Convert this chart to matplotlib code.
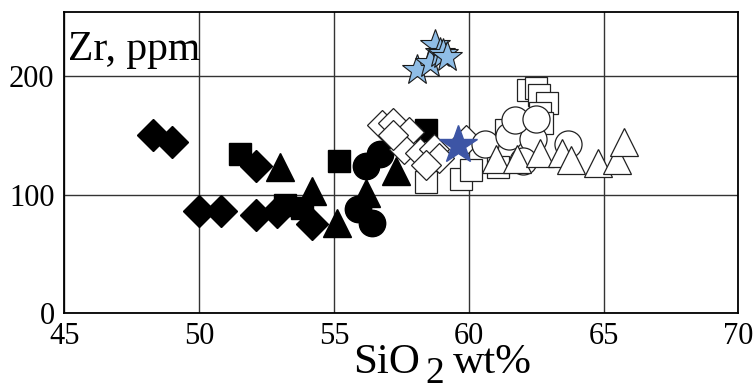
import matplotlib.pyplot as plt

plt.rcParams['font.family'] = ['Liberation Serif', 'DejaVu Serif']

# ---- data: SiO2 (wt%) vs Zr (ppm) ----
black_diamond_x = [48.3, 49.0, 50.0, 50.8, 52.1, 52.1, 52.9, 54.2]
black_diamond_y = [150, 144, 86, 86, 83, 124, 85, 75]

black_square_x = [51.5, 55.2, 58.4, 53.2, 53.8]
black_square_y = [134, 128, 154, 91, 89]

black_triangle_x = [53.0, 54.2, 55.1, 56.2, 57.3]
black_triangle_y = [123, 103, 76, 101, 120]

black_circle_x = [56.2, 56.7, 55.9, 56.4]
black_circle_y = [124, 134, 88, 76]

open_square_x = [58.4, 59.7, 60.1, 61.1, 61.4, 62.2, 62.5, 62.6, 62.9, 62.65, 62.7]
open_square_y = [111, 113, 121, 123, 154, 188, 190, 184, 177, 169, 160]

open_diamond_x = [56.8, 57.2, 57.8, 57.6, 58.2, 58.7, 58.9, 58.4, 59.9, 57.2]
open_diamond_y = [159, 160, 153, 138, 135, 138, 131, 125, 146, 150]

open_circle_x = [60.6, 61.5, 62.4, 61.7, 62.5, 63.7, 62.0]
open_circle_y = [143, 149, 147, 163, 164, 143, 128]

open_triangle_x = [61.0, 61.8, 62.65, 63.45, 63.8, 64.8, 65.5, 65.75]
open_triangle_y = [130, 130, 135, 135, 129, 127, 129, 144]

light_star_x = [58.1, 58.75, 58.55, 58.95, 59.05, 59.2]
light_star_y = [205, 226, 211, 219, 218, 216]

dark_star_x = [59.6]
dark_star_y = [142]

x_ticks = [45, 50, 55, 60, 65, 70]
y_ticks = [0, 100, 200]

fig = plt.figure(figsize=(7.54, 3.87), dpi=100)
ax = fig.add_axes([0.0853, 0.1904, 0.8939, 0.7794])

edge = '#222222'
ax.plot(black_diamond_x, black_diamond_y, 'D', ms=16, color='black', mec='black', zorder=3)
ax.plot(black_square_x, black_square_y, 's', ms=16.5, color='black', mec='black', zorder=3)
ax.plot(black_triangle_x, black_triangle_y, '^', ms=19.5, color='black', mec='black', zorder=3)
ax.plot(black_circle_x, black_circle_y, 'o', ms=19, color='black', mec='black', zorder=3)
ax.plot(open_square_x, open_square_y, 's', ms=16.5, mfc='white', mec=edge, mew=0.9, ls='none', zorder=4)
ax.plot(open_diamond_x, open_diamond_y, 'D', ms=15.5, mfc='white', mec=edge, mew=0.9, ls='none', zorder=4)
ax.plot(open_circle_x, open_circle_y, 'o', ms=19.5, mfc='white', mec=edge, mew=0.9, ls='none', zorder=5)
ax.plot(open_triangle_x, open_triangle_y, '^', ms=19.5, mfc='white', mec=edge, mew=0.9, ls='none', zorder=6)
ax.plot(light_star_x, light_star_y, '*', ms=23, mfc='#8fbde6', mec='#1a1a1a', mew=0.8, ls='none', zorder=7)
ax.plot(dark_star_x, dark_star_y, '*', ms=29, color='#3d55a5', mec='#3d55a5', ls='none', zorder=7)

ax.set_xlim(45, 70)
ax.set_ylim(0, 254)
ax.set_xticks(x_ticks)
ax.set_yticks(y_ticks)
ax.tick_params(length=0, labelsize=22, pad=7)
ax.tick_params(axis='x', pad=6)
ax.grid(True, color='#333333', linewidth=1.0)
ax.set_axisbelow(True)
for sp in ax.spines.values():
    sp.set_linewidth(1.3)

ax.text(0.006, 0.84, 'Zr, ppm', transform=ax.transAxes, fontsize=30,
        ha='left', va='baseline')

# x axis title with a lowered subscript
fig.text(353 / 754, 1 - 373 / 387, 'SiO', fontsize=31, ha='left', va='baseline')
fig.text(425 / 754, 1 - 383 / 387, '2', fontsize=27, ha='left', va='baseline')
fig.text(453 / 754, 1 - 373 / 387, 'wt%', fontsize=31, ha='left', va='baseline')

fig.savefig('out.png', dpi=100)
